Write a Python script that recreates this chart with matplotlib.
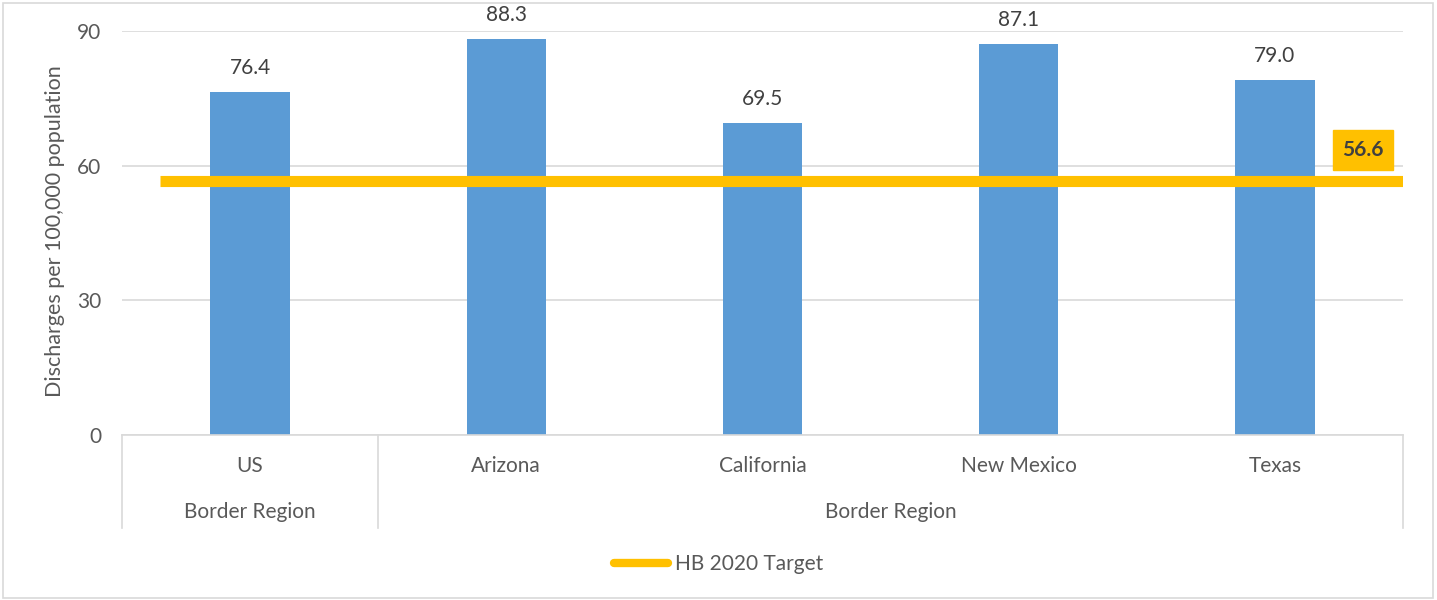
import matplotlib
matplotlib.use("Agg")
import matplotlib.pyplot as plt
from matplotlib.patches import Rectangle
from matplotlib.lines import Line2D

categories = ["US", "Arizona", "California", "New Mexico", "Texas"]
groups = ["Border Region", "Border Region"]
group_spans = [(0, 0), (1, 4)]
values = [76.4, 88.3, 69.5, 87.1, 79.0]
target = 56.6
target_label = "HB 2020 Target"
yticks = [0, 30, 60, 90]

BAR = "#5B9BD5"
GOLD = "#FFC000"
TXT = "#595959"
DARK = "#404040"
GRID = "#D9D9D9"
plt.rcParams['font.family'] = ['Lato', 'DejaVu Sans']
FS = 15

W, H = 1437, 600
fig = plt.figure(figsize=(W / 100, H / 100), dpi=100)
fig.patches.append(Rectangle((3 / W, 2 / H), (W - 7) / W, (H - 5) / H, transform=fig.transFigure,
                             fill=False, edgecolor=GRID, lw=1.2))

x0, x1, yb, yt = 122, 1403, 435, 31
ax = fig.add_axes([x0 / W, (H - yb) / H, (x1 - x0) / W, (yb - yt) / H])
ax.set_xlim(-0.5, len(categories) - 0.5)
ax.set_ylim(0, 90)
ppu = (yb - yt) / 90.0
xs = list(range(len(categories)))
ax.bar(xs, values, width=0.31, color=BAR, zorder=2)
for x, v in zip(xs, values):
    ax.text(x, v + 24 / ppu, f"{v:.1f}", ha="center", va="center", fontsize=FS, color=DARK)

ax.hlines(target, -0.35, len(categories) - 0.5, color=GOLD, lw=8, zorder=3)
bx0, bx1 = 4.227, 4.461
by0, by1 = 59.0, 67.9
ax.add_patch(Rectangle((bx0, by0), bx1 - bx0, by1 - by0, facecolor=GOLD, edgecolor=GOLD, zorder=4))
ax.text((bx0 + bx1) / 2, (by0 + by1) / 2, f"{target:.1f}", ha="center", va="center", fontsize=FS,
        fontweight="bold", color=DARK, zorder=5)

ax.set_yticks(yticks)
ax.set_yticklabels([str(t) for t in yticks], fontsize=FS, color=TXT)
ax.grid(axis="y", color=GRID, lw=1.2, zorder=0)
ax.set_axisbelow(True)
ax.tick_params(axis="y", length=0, pad=15)
ax.tick_params(axis="x", length=0)
ax.set_xticks([])
for s in ["top", "right", "left"]:
    ax.spines[s].set_visible(False)
ax.spines["bottom"].set_color(GRID)
ax.spines["bottom"].set_linewidth(1.2)

fig.text(55 / W, (H - 231) / H, "Discharges per 100,000 population", rotation=90, ha="center",
         va="center", fontsize=15.5, color=TXT)

tr = ax.get_xaxis_transform()
span = yb - yt
ext = -93 / span
for xv in [-0.5, 0.5, len(categories) - 0.5]:
    ax.add_line(Line2D([xv, xv], [0, ext], transform=tr, color=GRID, lw=1.2, clip_on=False))
for x, c in zip(xs, categories):
    ax.text(x, -31 / span, c, transform=tr, ha="center", va="center", fontsize=FS, color=TXT)
for (a, b), g in zip(group_spans, groups):
    ax.text((a + b) / 2, -77 / span, g, transform=tr, ha="center", va="center", fontsize=FS, color=TXT)

handle = Line2D([], [], color=GOLD, lw=6, solid_capstyle="round")
fig.legend([handle], [target_label], loc="center", bbox_to_anchor=(0.5, (H - 564) / H), frameon=False,
           fontsize=FS, labelcolor=TXT, handlelength=2.6, handletextpad=0.3)

fig.savefig("out.png", dpi=100)
